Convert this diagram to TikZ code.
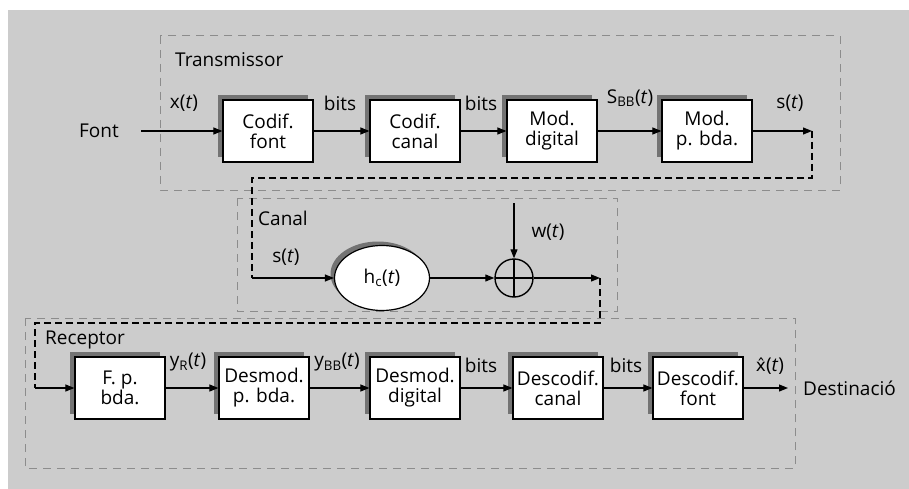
\documentclass[tikz,border=0pt]{standalone}
\usepackage{fontspec}
\setmainfont{Open Sans}
\newfontfamily\djv{DejaVu Sans}
\usepackage{tikz}
\usetikzlibrary{shapes.geometric, arrows.meta, shadows, calc}
\definecolor{bggray}{HTML}{CCCCCC}
\definecolor{shadowgray}{HTML}{737373}
\definecolor{dashgray}{HTML}{8C8C8C}
\newcommand{\tvar}{\textit{t}}

\begin{document}
\begin{tikzpicture}[x=1pt, y=-1pt,
  font = \fontsize{19}{20}\selectfont,
  blk/.style  = {draw, fill=white, line width=1.2pt, minimum width=90pt,
                 minimum height=62pt, align=center, inner xsep=2pt,
                 general shadow={fill=shadowgray, shadow xshift=-5pt, shadow yshift=5pt}},
  ell/.style  = {ellipse, draw, fill=white, line width=1.2pt, minimum width=95pt,
                 minimum height=65pt,
                 general shadow={fill=shadowgray, shadow xshift=-4pt, shadow yshift=4pt}},
  sumnode/.style = {circle, draw, line width=1.4pt, minimum size=38pt, inner sep=0pt,
                 path picture={\draw[line width=1.4pt]
                   (path picture bounding box.north) -- (path picture bounding box.south)
                   (path picture bounding box.west)  -- (path picture bounding box.east);}},
  lbl/.style  = {inner sep=0pt},
  grp/.style  = {draw=dashgray, dash pattern=on 8pt off 6pt, line width=1pt},
  arr/.style  = {-{Triangle[length=9pt,width=7pt]}, line width=1.1pt},
  dline/.style = {dash pattern=on 7pt off 4pt, line width=1.1pt}
]
\useasboundingbox (0,0) rectangle (909,489);
\fill[bggray] (8,10) rectangle (909,489);

% grups
\draw[grp] (160,36) rectangle (840,190);
\draw[grp] (237,198) rectangle (617,311);
\draw[grp] (25,318) rectangle (795,468);
\node[lbl, anchor=west] (ttx) at (175,60)  {Transmissor};
\node[lbl, anchor=west] (tch) at (258,218) {Canal};
\node[lbl, anchor=west] (trx) at (45,340)  {Receptor};

% transmissor
\node[lbl] (src) at (99,131) {Font};
\node[blk] (cf) at (268,131) {Codif.\\font};
\node[blk] (cc) at (415,131) {Codif.\\canal};
\node[blk] (md) at (552,131) {Mod.\\digital};
\node[blk] (mp) at (707,131) {Mod.\\p. bda.};
\coordinate (txo) at (812,131);

\draw[arr, shorten <=22pt] (src) -- (cf);
\foreach \a/\b in {cf/cc, cc/md, md/mp, mp/txo}
  \draw[arr] (\a) -- (\b);

\node[lbl] (lx)   at (184,103) {x(\tvar)};
\node[lbl] (lb1)  at (340,103) {bits};
\node[lbl] (lb2)  at (481,103) {bits};
\node[lbl] (lsbb) at (630,98)  {S\textsubscript{BB}(\tvar)};
\node[lbl] (ls)   at (790,103) {s(\tvar)};

% canal
\coordinate (chi) at (252,278);
\node[ell] (hc) at (382,278) {h\textsubscript{c}(\tvar)};
\node[sumnode] (sum) at (514,278) {};
\coordinate (wi) at (514,203);
\coordinate (cho) at (600,278);

\draw[arr] (chi) -- (hc);
\draw[arr] (hc) -- (sum);
\draw[arr] (wi) -- (sum);
\draw[arr] (sum) -- (cho);

\node[lbl] (ls2) at (286,257) {s(\tvar)};
\node[lbl] (lw)  at (548,232) {w(\tvar)};

% receptor
\coordinate (rxi) at (35,388);
\node[blk] (fp) at (120,388) {F. p.\\bda.};
\node[blk] (dp) at (264,388) {Desmod.\\p. bda.};
\node[blk] (dd) at (415,388) {Desmod.\\digital};
\node[blk] (dc) at (558,388) {Descodif.\\canal};
\node[blk] (df) at (698,388) {Descodif.\\font};
\node[lbl, anchor=west] (dst) at (803,388) {Destinació};

\foreach \a/\b in {rxi/fp, fp/dp, dp/dd, dd/dc, dc/df}
  \draw[arr] (\a) -- (\b);
\draw[arr, shorten >=15pt] (df) -- (dst);

\node[lbl] (lyr)  at (188,362) {y\textsubscript{R}(\tvar)};
\node[lbl] (lybb) at (337,362) {y\textsubscript{BB}(\tvar)};
\node[lbl] (lb3)  at (481,365) {bits};
\node[lbl] (lb4)  at (626,365) {bits};
\node[lbl] (lxh)  at (770,366) {{\djv\fontsize{17}{20}\selectfont x̂}(\tvar)};

% enllacos entre blocs
\draw[dline] (txo) -- ++(0,47) -| (chi);
\draw[dline] (cho) -- ++(0,45) -| (rxi);
\end{tikzpicture}
\end{document}
